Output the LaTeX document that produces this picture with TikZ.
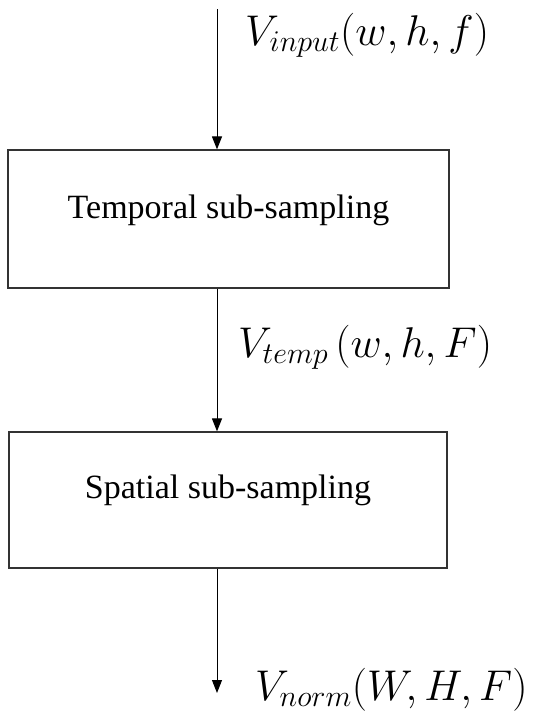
\RequirePackage{fix-cm}
\documentclass[tikz,border=0pt]{standalone}
\usepackage[no-math]{fontspec}
\setmainfont{Liberation Serif}
\usetikzlibrary{arrows.meta}
\begin{document}
\begin{tikzpicture}[x=1pt,y=-1pt,
  stagebox/.style={draw=black!80, line width=1.2pt, rectangle, inner sep=0pt,
    font=\fontsize{34}{40}\selectfont},
  flow/.style={line width=1pt, -{Triangle[length=13pt,width=10pt]}},
  vlabel/.style={anchor=base west, inner sep=0pt, font=\fontsize{43}{50}\selectfont}]
\useasboundingbox (0,0) rectangle (554,718);
\node[stagebox, minimum width=441pt, minimum height=138pt, text height=24pt, text depth=26pt] (temporal) at (228.5,219) {Temporal sub-sampling};
\node[stagebox, minimum width=438pt, minimum height=136pt, text height=24pt, text depth=28pt] (spatial) at (228,500) {Spatial sub-sampling};
\coordinate (in) at (217,9);
\coordinate (out) at (217,693);
\draw[flow] (in) -- (in |- temporal.north);
\draw[flow] (in |- temporal.south) -- (in |- spatial.north);
\draw[flow] (in |- spatial.south) -- (out);
\node[vlabel] (lin) at (245,45) {$V_{input}(w,h,f)$};
\node[vlabel] (ltemp) at (238,357) {$V_{temp}\,(w,h,F)$};
\node[vlabel] (lnorm) at (255,700) {$V_{norm}(W,H,F)$};
\end{tikzpicture}
\end{document}
